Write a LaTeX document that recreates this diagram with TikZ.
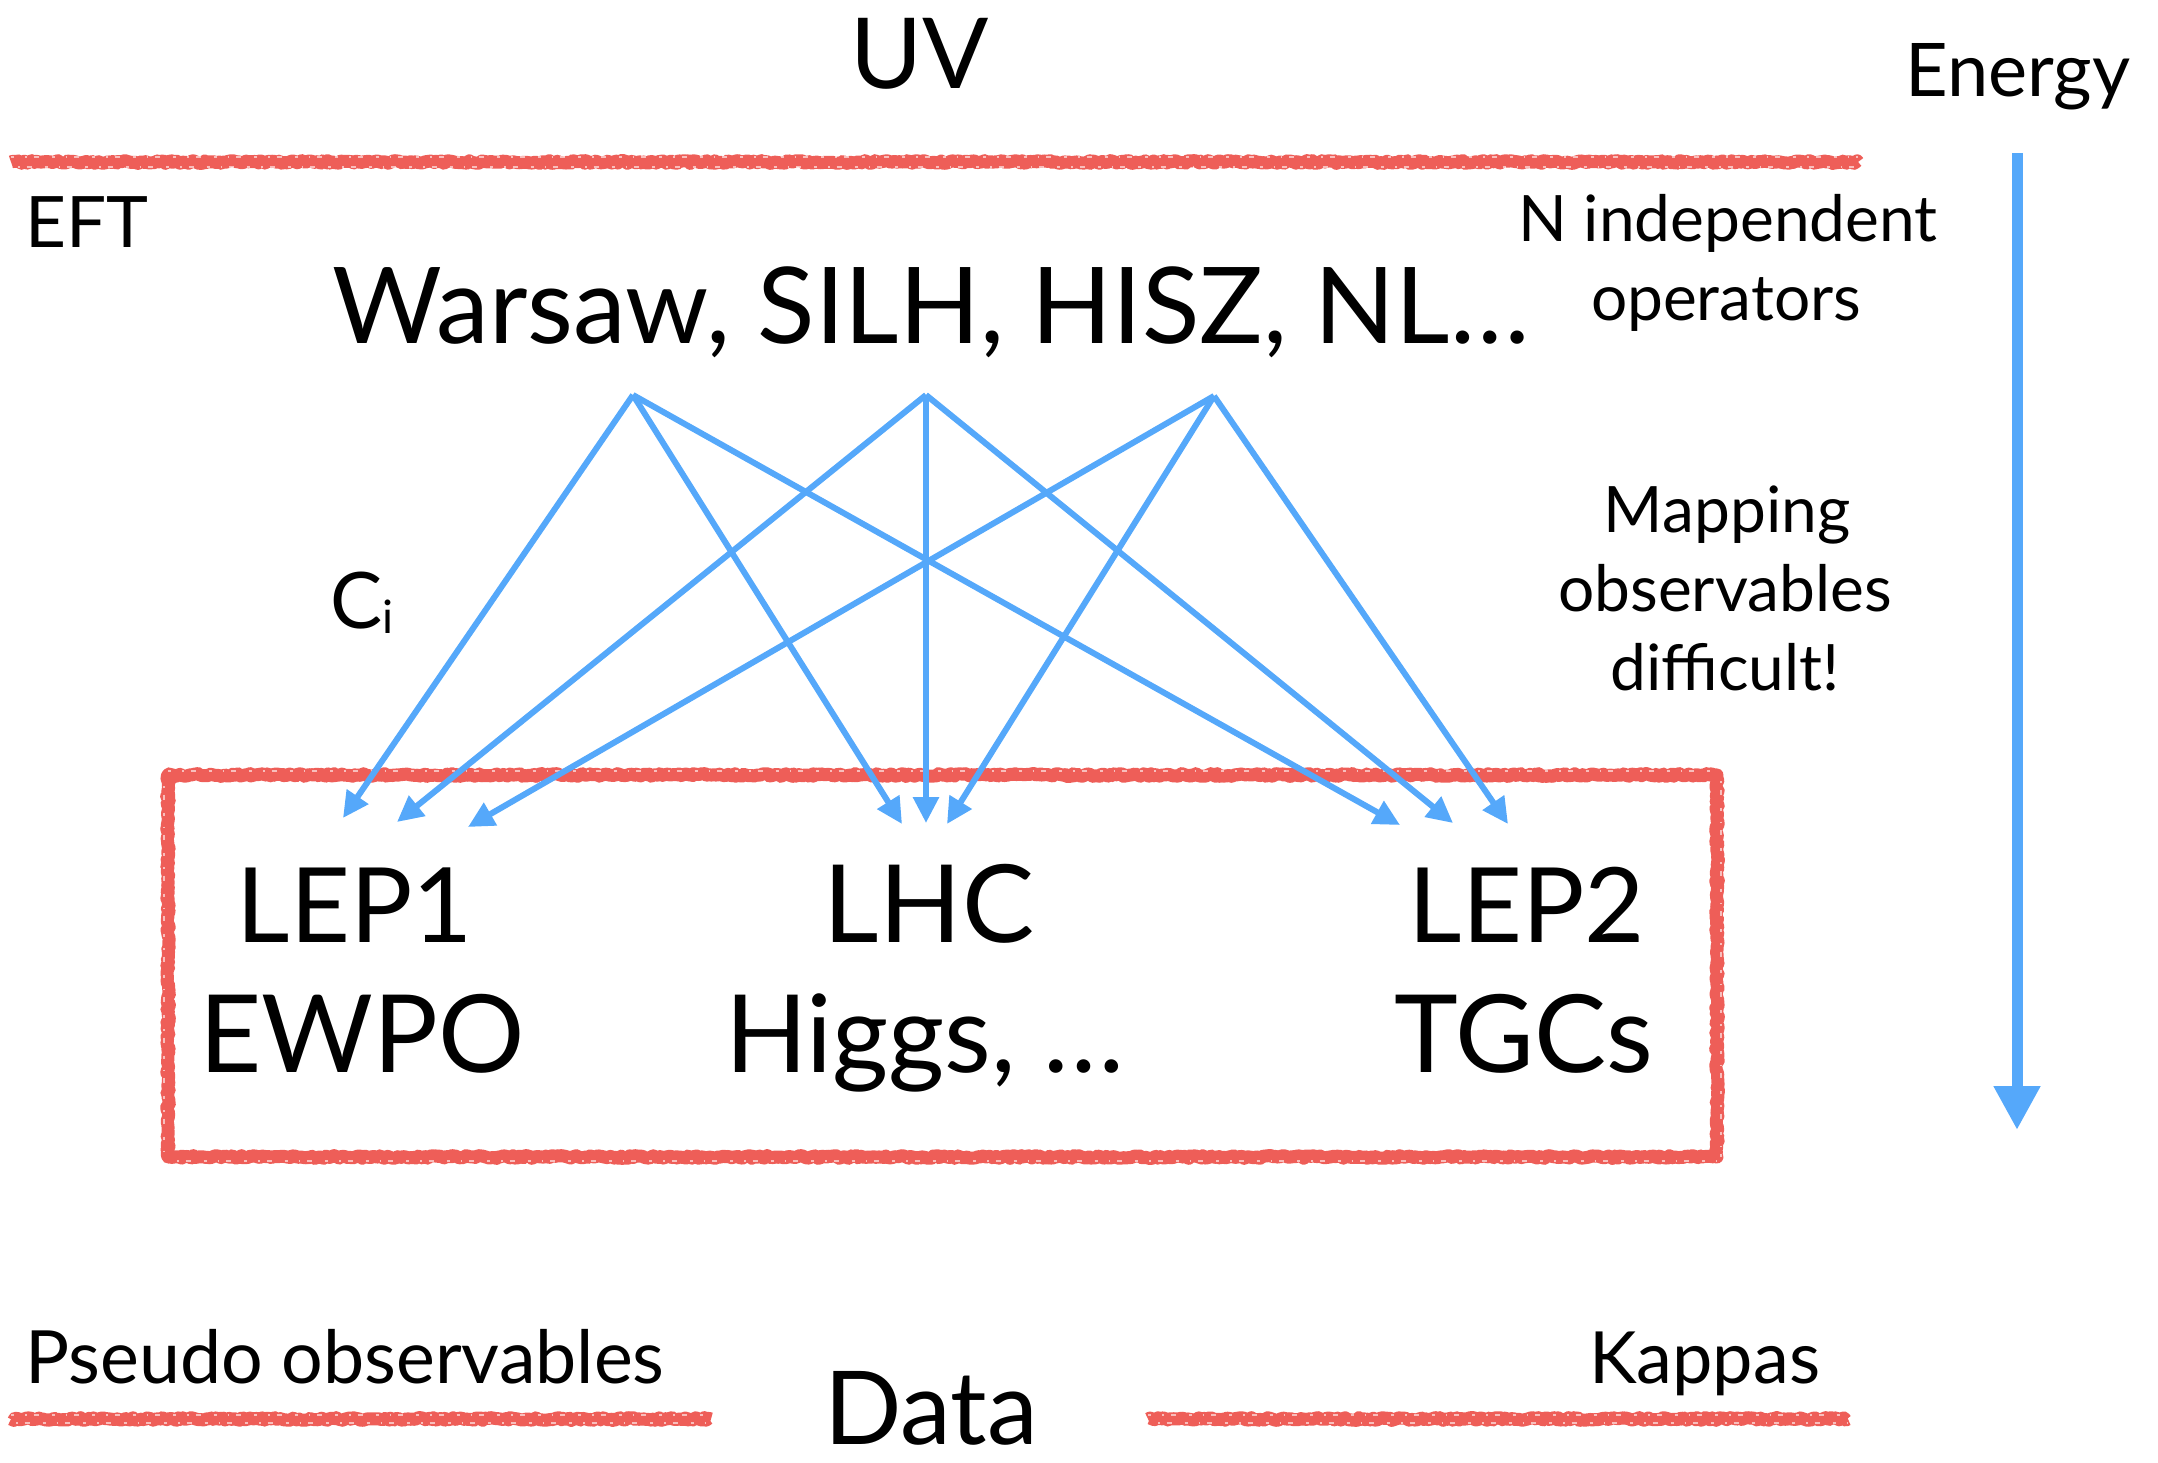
\documentclass[tikz,border=0pt]{standalone}
\usepackage{fontspec}
\setmainfont{Lato}
\usetikzlibrary{arrows.meta,decorations.pathmorphing}
\definecolor{chalk}{RGB}{238,94,88}
\definecolor{skyblue}{RGB}{85,168,250}

\begin{document}
\begin{tikzpicture}[x=1pt,y=-1pt,
  txt/.style={anchor=base, inner sep=0pt},
  huge/.style={txt, font=\fontsize{108}{120}\selectfont},
  large/.style={txt, font=\fontsize{74}{90}\selectfont},
  body/.style={txt, font=\fontsize{64}{76}\selectfont},
  chalkline/.style={draw=chalk, line width=13pt, line join=round, decorate,
    decoration={random steps, segment length=2.5pt, amplitude=1.4pt}},
  chalkgrain/.style={draw=white, line width=1.3pt, opacity=0.6,
    dash pattern=on 3pt off 11pt on 1.5pt off 7pt on 5pt off 13pt},
  link/.style={draw=skyblue, line width=6pt, -{Triangle[length=26pt,width=25pt]}},
  energyarrow/.style={draw=skyblue, line width=11pt, -{Triangle[length=44pt,width=44pt]}},
]
\useasboundingbox (0,0) rectangle (2158,1463);

% horizontal chalk rules
\draw[chalkline] (11,162) -- (1858,162);
\draw[chalkgrain] (11,157) -- (1858,157);
\draw[chalkgrain, dash phase=7pt] (11,167) -- (1858,167);
\draw[chalkline] (11,1419) -- (711,1419);
\draw[chalkgrain] (11,1415) -- (711,1415);
\draw[chalkgrain, dash phase=9pt] (11,1423) -- (711,1423);
\draw[chalkline] (1148,1419) -- (1848,1419);
\draw[chalkgrain] (1148,1415) -- (1848,1415);
\draw[chalkgrain, dash phase=4pt] (1148,1423) -- (1848,1423);

% frame around the data sets
\draw[chalkline] (168,775) rectangle (1717,1157);
\draw[chalkgrain] (168,771) -- (1717,771);
\draw[chalkgrain, dash phase=5pt] (168,1161) -- (1717,1161);
\draw[chalkgrain, dash phase=3pt] (164,775) -- (164,1157);
\draw[chalkgrain, dash phase=8pt] (1721,775) -- (1721,1157);

% titles and labels
\node[huge, font=\fontsize{98}{110}\selectfont] (uv) at (920,89) {UV};
\node[large] (energy) at (2018,97) {Energy};
\node[large, anchor=base west, font=\fontsize{71}{84}\selectfont] (eft) at (25,248) {EFT};
\node[huge, font=\fontsize{106}{120}\selectfont] (bases) at (931,343) {Warsaw, SILH, HISZ, NL…};
\node[body] (nind) at (1728,242) {N independent};
\node[body] (oper) at (1726,320) {operators};
\node[body] (map1) at (1727,532) {Mapping};
\node[body] (map2) at (1725,611) {observables};
\node[body] (map3) at (1725,690) {difficult!};
\node[large, anchor=base west, font=\fontsize{78}{90}\selectfont] (coef) at (330,628) {C\raisebox{-5pt}{\fontsize{46}{46}\selectfont i}};

\node[huge, font=\fontsize{104}{120}\selectfont] (lep1) at (355,942) {LEP1};
\node[huge] (ewpo) at (362,1072) {EWPO};
\node[huge] (lhc) at (929,942) {LHC};
\node[huge] (higgs) at (925,1072) {Higgs, …};
\node[huge, font=\fontsize{104}{120}\selectfont] (lep2) at (1527,942) {LEP2};
\node[huge] (tgc) at (1524,1072) {TGCs};

\node[large, anchor=base west, font=\fontsize{73.5}{84}\selectfont] (pseudo) at (25,1383) {Pseudo observables};
\node[large, anchor=base west, font=\fontsize{72}{84}\selectfont] (kappa) at (1589,1383) {Kappas};
\node[huge, font=\fontsize{102}{120}\selectfont] (data) at (931,1444) {Data};

% operator bases mapped onto the observables
\coordinate (s1) at (633,395);
\coordinate (s2) at (926,395);
\coordinate (s3) at (1214,396);
\coordinate (a1) at (343,818);
\coordinate (a2) at (397,822);
\coordinate (a3) at (468,827);
\coordinate (b1) at (902,824);
\coordinate (b2) at (926,823);
\coordinate (b3) at (947,824);
\coordinate (c1) at (1400,825);
\coordinate (c2) at (1453,823);
\coordinate (c3) at (1508,824);
\draw[link] (s1) -- (a1);
\draw[link] (s1) -- (b1);
\draw[link] (s1) -- (c1);
\draw[link] (s2) -- (a2);
\draw[link] (s2) -- (b2);
\draw[link] (s2) -- (c2);
\draw[link] (s3) -- (a3);
\draw[link] (s3) -- (b3);
\draw[link] (s3) -- (c3);

% energy scale
\coordinate (etop) at (2017,153);
\coordinate (ebot) at (2017,1130);
\draw[energyarrow] (etop) -- (ebot);
\end{tikzpicture}
\end{document}
